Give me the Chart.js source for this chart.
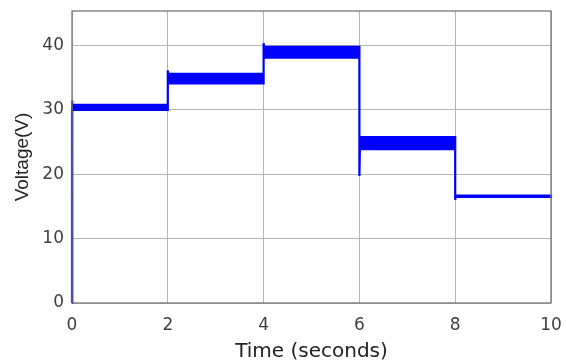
<!DOCTYPE html>
<html><head><meta charset="utf-8">
<script src="https://cdn.jsdelivr.net/npm/chart.js@4/dist/chart.umd.min.js"></script>
<style>html,body{margin:0;padding:0;background:#fff}#wrap{width:566px;height:362px}</style>
</head><body><div id="wrap"><canvas id="c" width="566" height="362"></canvas></div>
<script>
// Upper envelope of the voltage ripple band (time s, voltage V)
const upperT = [0, 0, 0.01, 2, 2, 2.01, 4, 4, 4.01, 6, 6, 8, 8, 10];
const upperV = [0, 31.4, 30.75, 30.75, 36.1, 35.55, 35.55, 40.3, 39.75, 39.75, 25.75, 25.75, 16.65, 16.65];
// Lower envelope of the voltage ripple band
const lowerT = [0, 0, 2, 2, 4, 4, 6, 6, 6.01, 8, 8, 8.01, 10];
const lowerV = [0, 29.95, 29.95, 34.05, 34.05, 38.05, 38.05, 19.7, 23.85, 23.85, 16.0, 16.45, 16.45];
const xTicks = [0, 2, 4, 6, 8, 10];
const yTicks = [0, 10, 20, 30, 40];

const outline = upperT.map((t, i) => ({x: t, y: upperV[i]}))
  .concat(lowerT.map((t, i) => ({x: t, y: lowerV[i]})).reverse());

const frame = {
  id: 'frame',
  afterDraw(chart) {
    const a = chart.chartArea, ctx = chart.ctx;
    ctx.save();
    ctx.strokeStyle = '#777';
    ctx.lineWidth = 1.3;
    ctx.strokeRect(a.left, a.top, a.right - a.left, a.bottom - a.top);
    ctx.restore();
  }
};
const zeroPad = s => { s.paddingTop = 0; s.paddingBottom = 0; s.paddingLeft = 0; s.paddingRight = 0; };

new Chart(document.getElementById('c'), {
  type: 'scatter',
  data: {
    datasets: [{
      data: outline,
      showLine: true,
      borderColor: '#0000ff',
      backgroundColor: '#0000ff',
      borderWidth: 2.2,
      pointRadius: 0,
      fill: 'shape',
      tension: 0,
      clip: 3
    }]
  },
  options: {
    responsive: false,
    animation: false,
    layout: {padding: {top: 11, right: 15, left: 0, bottom: 0}},
    plugins: {legend: {display: false}, tooltip: {enabled: false}},
    scales: {
      x: {
        type: 'linear', min: 0, max: 10,
        afterBuildTicks: s => { s.ticks = xTicks.map(v => ({value: v})); },
        afterFit: s => { s.height = 59; zeroPad(s); },
        grid: {color: '#b4b4b4', lineWidth: 1, drawTicks: false},
        border: {display: false},
        ticks: {font: {family: 'DejaVu Sans', size: 17}, color: '#404040', padding: 12, maxRotation: 0},
        title: {display: true, text: 'Time (seconds)', font: {family: 'DejaVu Sans', size: 20}, color: '#222', padding: {top: 0, bottom: -2}}
      },
      y: {
        type: 'linear', min: 0, max: 45.3,
        afterBuildTicks: s => { s.ticks = yTicks.map(v => ({value: v})); },
        afterFit: s => { s.width = 72; zeroPad(s); },
        grid: {color: '#b4b4b4', lineWidth: 1, drawTicks: false},
        border: {display: false},
        ticks: {font: {family: 'DejaVu Sans', size: 17}, color: '#404040', padding: 8},
        title: {display: true, text: 'Voltage(V)', font: {family: 'Liberation Sans', size: 19}, color: '#222', padding: {top: 11, bottom: 0}}
      }
    }
  },
  plugins: [frame]
});
</script></body></html>
